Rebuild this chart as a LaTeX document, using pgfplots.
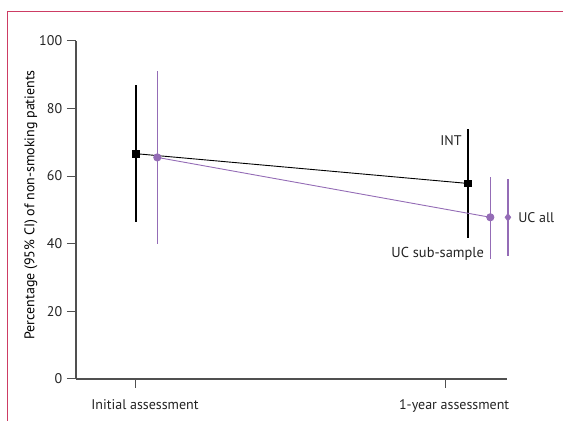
\documentclass[border=0pt]{standalone}
\usepackage{pgfplots}
\pgfplotsset{compat=1.18}
\usepackage{fontspec}
\setmainfont{PT Sans}
\definecolor{framec}{RGB}{205,60,100}
\definecolor{upurple}{RGB}{148,108,182}
\definecolor{axgray}{RGB}{80,80,80}
\definecolor{txtc}{RGB}{35,35,35}
\begin{document}
\fontsize{14pt}{16pt}\selectfont
\begin{tikzpicture}
\path[use as bounding box] (0,0) rectangle (563pt,425pt);
\draw[framec, line width=1.2pt] (563pt,413.5pt) -- (7.5pt,413.5pt) -- (7.5pt,4pt);
\begin{axis}[
  at={(76pt,46pt)}, anchor=south west,
  scale only axis, width=431pt, height=338.3pt,
  xmin=-0.194, xmax=1.2, ymin=0, ymax=100,
  axis x line=bottom, axis y line=left,
  axis line style={-, axgray, line width=1.2pt},
  clip=false,
  xtick={0,1}, xticklabels={Initial assessment,1-year assessment},
  ytick={0,20,40,60,80,100},
  tick align=outside,
  major tick length=9pt,
  tick style={axgray, line width=1pt},
  /pgf/number format/assume math mode=true,
  ticklabel style={font=\fontsize{14pt}{16pt}\selectfont, text=txtc},
  xticklabel style={yshift=-7pt, xshift=9pt},
  ylabel={Percentage (95\% CI) of non-smoking patients},
  ylabel style={font=\fontsize{14.8pt}{16pt}\selectfont, text=txtc},
  every axis y label/.style={at={(axis description cs:0,0.5)}, rotate=90, anchor=center, yshift=45pt, xshift=5pt},
]
\addplot[black, line width=0.9pt, mark=square*, mark size=3.3pt,
  error bars/.cd, y dir=both, y explicit, error mark=none,
  error bar style={black, line width=1.2pt}]
  coordinates {(0,66.6) += (0,20.3) -= (0,20.3) (1.074,57.8) += (0,16.1) -= (0,16.1)};
\addplot[upurple, line width=0.9pt, mark=*, mark size=3.6pt,
  error bars/.cd, y dir=both, y explicit, error mark=none,
  error bar style={upurple, line width=1.2pt}]
  coordinates {(0.069,65.5) += (0,25.6) -= (0,25.7) (1.146,47.8) += (0,12.0) -= (0,12.4)};
\addplot[upurple, only marks, mark=diamond*, mark size=4pt,
  error bars/.cd, y dir=both, y explicit, error mark=none,
  error bar style={upurple, line width=1.2pt}]
  coordinates {(1.203,47.8) += (0,11.4) -= (0,11.5)};
\node[anchor=east, text=txtc, font=\fontsize{14pt}{16pt}\selectfont, inner sep=0pt] at (axis cs:1.054,70.4) {INT};
\node[anchor=west, text=txtc, font=\fontsize{14pt}{16pt}\selectfont, inner sep=0pt] at (axis cs:1.236,47.8) {UC all};
\node[anchor=east, text=txtc, font=\fontsize{14.4pt}{16pt}\selectfont, inner sep=0pt] at (axis cs:1.126,36.9) {UC sub-sample};
\end{axis}
\end{tikzpicture}
\end{document}
